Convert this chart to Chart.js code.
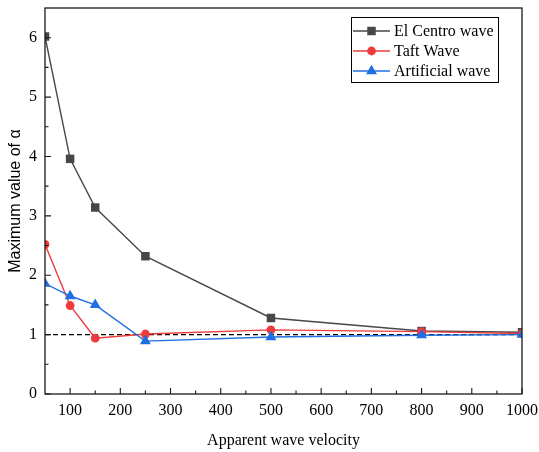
<!DOCTYPE html>
<html>
<head>
<meta charset="utf-8">
<script src="https://cdn.jsdelivr.net/npm/chart.js@4/dist/chart.umd.min.js"></script>
<style>
html,body{margin:0;padding:0;background:#fff;}
#wrap{width:539px;height:452px;}
</style>
</head>
<body>
<div id="wrap"><canvas id="c" width="539" height="452"></canvas></div>
<script>
const velocities = [50, 100, 150, 250, 500, 800, 1000];
const elCentro   = [6.02, 3.96, 3.14, 2.32, 1.28, 1.06, 1.04];
const taft       = [2.52, 1.49, 0.94, 1.01, 1.08, 1.05, 1.02];
const artificial = [1.86, 1.65, 1.50, 0.89, 0.96, 0.99, 1.00];
const refLineX   = [50, 1000];
const refLineY   = [1, 1];
const xTicks = [100, 200, 300, 400, 500, 600, 700, 800, 900, 1000];
const yTicks = [0, 1, 2, 3, 4, 5, 6];
const seriesNames = ['El Centro wave', 'Taft Wave', 'Artificial wave'];

const pts = (xs, ys) => xs.map((x, i) => ({x: x, y: ys[i]}));

const GRAY = '#474747', RED = '#ee3b3b', BLUE = '#1f6fe0';

const frameAndTicks = {
  id: 'frameAndTicks',
  afterDatasetsDraw(chart) {
    const ctx = chart.ctx, a = chart.chartArea;
    const xs = chart.scales.x, ys = chart.scales.y;
    ctx.save();
    ctx.strokeStyle = '#1a1a1a';
    ctx.lineWidth = 1.3;
    ctx.strokeRect(a.left, a.top, a.right - a.left, a.bottom - a.top);
    ctx.lineWidth = 1.1;
    ctx.beginPath();
    xTicks.forEach(v => {
      const p = xs.getPixelForValue(v);
      ctx.moveTo(p, a.bottom); ctx.lineTo(p, a.bottom - 6);
      const m = v - 50;
      if (m > xs.min) { const q = xs.getPixelForValue(m); ctx.moveTo(q, a.bottom); ctx.lineTo(q, a.bottom - 3.5); }
    });
    yTicks.forEach(v => {
      const p = ys.getPixelForValue(v);
      ctx.moveTo(a.left, p); ctx.lineTo(a.left + 6, p);
      const m = v + 0.5;
      if (m < ys.max) { const q = ys.getPixelForValue(m); ctx.moveTo(a.left, q); ctx.lineTo(a.left + 3.5, q); }
    });
    ctx.stroke();
    ctx.restore();
  }
};

function drawMarker(ctx, style, x, y, r, color) {
  ctx.fillStyle = color;
  ctx.beginPath();
  if (style === 'rect') {
    const s = r * Math.SQRT1_2;
    ctx.rect(x - s, y - s, 2 * s, 2 * s);
  } else if (style === 'circle') {
    ctx.arc(x, y, r, 0, Math.PI * 2);
  } else if (style === 'triangle') {
    ctx.moveTo(x, y - r);
    ctx.lineTo(x + r * Math.sin(Math.PI / 3), y + r * 0.5);
    ctx.lineTo(x - r * Math.sin(Math.PI / 3), y + r * 0.5);
    ctx.closePath();
  }
  ctx.fill();
}

const boxLegend = {
  id: 'boxLegend',
  afterDraw(chart) {
    const ctx = chart.ctx, a = chart.chartArea;
    const bx = a.right - 171, by = a.top + 9, bw = 147, bh = 65;
    ctx.save();
    ctx.fillStyle = '#fff';
    ctx.fillRect(bx, by, bw, bh);
    ctx.strokeStyle = '#000';
    ctx.lineWidth = 1;
    ctx.strokeRect(bx + 0.5, by + 0.5, bw, bh);
    ctx.font = '16px "Liberation Serif", "Times New Roman", serif';
    ctx.textBaseline = 'middle';
    ctx.textAlign = 'left';
    for (let i = 0; i < 3; i++) {
      const ds = chart.data.datasets[i];
      const cy = by + 14 + i * 20;
      ctx.strokeStyle = ds.borderColor;
      ctx.lineWidth = 1.3;
      ctx.beginPath();
      ctx.moveTo(bx + 2, cy); ctx.lineTo(bx + 39, cy);
      ctx.stroke();
      drawMarker(ctx, ds.pointStyle, bx + 20.5, cy, ds.pointRadius, ds.pointBackgroundColor);
      ctx.fillStyle = '#000';
      ctx.fillText(ds.label, bx + 43, cy + 1);
    }
    ctx.restore();
  }
};

new Chart(document.getElementById('c'), {
  type: 'line',
  data: {
    datasets: [
      { label: seriesNames[0], data: pts(velocities, elCentro), borderColor: GRAY, backgroundColor: GRAY,
        pointBackgroundColor: GRAY, pointBorderColor: GRAY, pointStyle: 'rect', pointRadius: 6, borderWidth: 1.4, pointBorderWidth: 0, order: 3 },
      { label: seriesNames[1], data: pts(velocities, taft), borderColor: RED, backgroundColor: RED,
        pointBackgroundColor: RED, pointBorderColor: RED, pointStyle: 'circle', pointRadius: 4.4, borderWidth: 1.4, pointBorderWidth: 0, order: 2 },
      { label: seriesNames[2], data: pts(velocities, artificial), borderColor: BLUE, backgroundColor: BLUE,
        pointBackgroundColor: BLUE, pointBorderColor: BLUE, pointStyle: 'triangle', pointRadius: 6.3, borderWidth: 1.4, pointBorderWidth: 0, order: 1 },
      { label: '', data: pts(refLineX, refLineY), borderColor: '#000', borderWidth: 1.1, borderDash: [5, 3],
        pointRadius: 0, order: 4 }
    ]
  },
  options: {
    responsive: false,
    animation: false,
    events: [],
    layout: { padding: { top: 8, right: 17, left: 0, bottom: 0 } },
    plugins: { legend: { display: false }, tooltip: { enabled: false } },
    scales: {
      x: {
        type: 'linear', min: 50, max: 1000,
        afterBuildTicks: s => { s.ticks = xTicks.map(v => ({value: v})); },
        afterFit: s => { s.height = 58; s.paddingLeft = 0; s.paddingRight = 0; },
        grid: { display: false, drawTicks: false },
        border: { display: false },
        ticks: { padding: 7, color: '#000', maxRotation: 0, autoSkip: false, callback: v => String(v),
                 font: { family: '"Liberation Serif", "Times New Roman", serif', size: 16 } },
        title: { display: true, text: 'Apparent wave velocity', color: '#000', padding: { top: 0, bottom: 2 },
                 font: { family: '"Liberation Serif", "Times New Roman", serif', size: 16 } }
      },
      y: {
        type: 'linear', min: 0, max: 6.5,
        afterBuildTicks: s => { s.ticks = yTicks.map(v => ({value: v})); },
        afterFit: s => { s.width = 45; s.paddingTop = 0; s.paddingBottom = 0; },
        grid: { display: false, drawTicks: false },
        border: { display: false },
        ticks: { padding: 8, color: '#000', callback: v => String(v),
                 font: { family: '"Liberation Serif", "Times New Roman", serif', size: 16 } },
        title: { display: true, text: 'Maximum value of α', color: '#000', padding: { top: 6, bottom: 0 },
                 font: { family: '"Liberation Sans", Arial, sans-serif', size: 16 } }
      }
    }
  },
  plugins: [frameAndTicks, boxLegend]
});
</script>
</body>
</html>
